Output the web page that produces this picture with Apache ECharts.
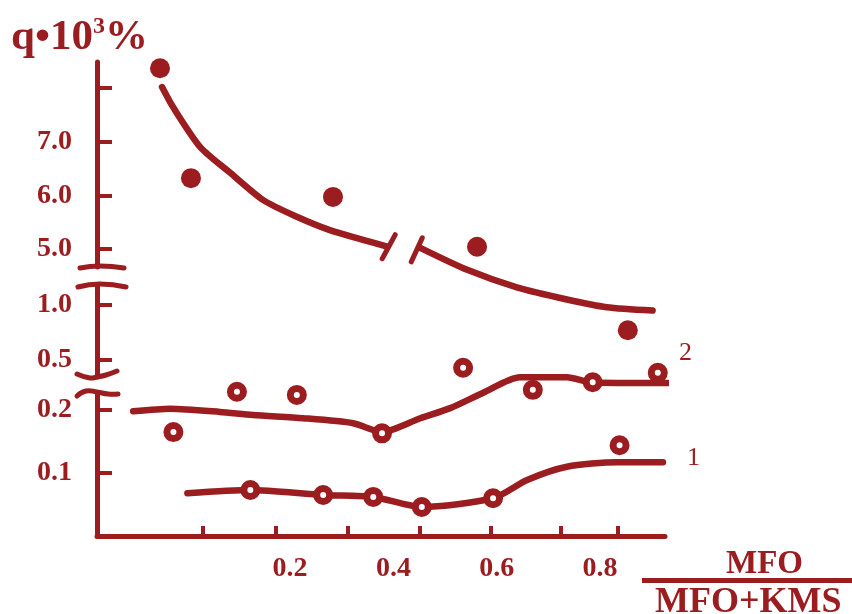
<!DOCTYPE html>
<html><head><meta charset="utf-8">
<script src="https://cdn.jsdelivr.net/npm/echarts@6/dist/echarts.min.js"></script>
<style>html,body{margin:0;padding:0;background:#fff}#c{width:852px;height:614px}</style>
</head><body><div id="c"></div>
<script>
// ---- data ----
const xLabelValues = [0.2, 0.4, 0.6, 0.8];
const xTickValues = [0.03, 0.173, 0.312, 0.451, 0.589, 0.724, 0.835];
const yTopLabels = [5, 6, 7];
const yTopTicks = [5, 6, 7, 8];
const yMidLabels = [0.5, 1.0];
const yBotLabels = [0.1, 0.2];

// upper curve (filled dots), before the break (upper scale 5.0-8.0)
const curveTopA = [[-0.048,8.02],[-0.027,7.65],[0.026,6.90],[0.084,6.42],[0.148,5.91],[0.213,5.60],[0.277,5.35],[0.341,5.17],[0.388,5.04]];
// upper curve after the break (scale 0.5-1.0)
const curveTopB = [[0.452,1.52],[0.543,1.32],[0.639,1.16],[0.736,1.05],[0.813,0.98],[0.902,0.95]];
const dotsTopA = [[-0.052,8.37],[0.008,6.32],[0.283,5.97]];
const dotsTopB = [[0.562,1.53],[0.854,0.77]];

// curve 2 (open circles)
const curve2 = [[-0.104,0.198],[-0.032,0.202],[0.064,0.197],[0.128,0.192],[0.225,0.187],[0.322,0.179],[0.378,0.165],[0.452,0.187],[0.510,0.203],[0.573,0.227],[0.645,0.252],[0.736,0.252],[0.781,0.244],[0.833,0.243],[0.955,0.243]];
const points2 = [[-0.026,0.165],[0.097,0.229],[0.213,0.224],[0.378,0.163],[0.535,0.267],[0.670,0.232],[0.786,0.244],[0.912,0.259]];

// curve 1 (open circles)
const curve1 = [[0.001,0.068],[0.123,0.073],[0.264,0.065],[0.361,0.062],[0.455,0.046],[0.593,0.060],[0.659,0.089],[0.736,0.110],[0.833,0.117],[0.922,0.117]];
const points1 = [[0.123,0.073],[0.264,0.065],[0.361,0.062],[0.455,0.046],[0.593,0.060],[0.838,0.144]];

// ---- style ----
const C = '#9b1d20';
const FONT = '"Liberation Serif","DejaVu Serif",serif';
const X_MIN = -0.174, X_MAX = 0.926;
const L = 97, W = 568;

const chart = echarts.init(document.getElementById('c'));
function xAx(i, show){
  return {type:'value', gridIndex:i, min:X_MIN, max:X_MAX, show:show,
    axisLine:{show:show, onZero:false, lineStyle:{color:C, width:5}},
    axisTick:{show:show, inside:true, length:10, lineStyle:{color:C,width:4}, customValues:xTickValues},
    axisLabel:{show:show, color:C, fontFamily:FONT, fontWeight:'bold', fontSize:28, margin:19,
      customValues:xLabelValues, formatter:v=>v.toFixed(1)},
    splitLine:{show:false}};
}
function yAx(i, min, max, labels, ticks){
  return {type:'value', gridIndex:i, min:min, max:max,
    axisLine:{show:true, onZero:false, lineStyle:{color:C, width:5}},
    axisTick:{show:true, inside:true, length:15, lineStyle:{color:C,width:4}, customValues:ticks},
    axisLabel:{color:C, fontFamily:FONT, fontWeight:'bold', fontSize:28, margin:25,
      customValues:labels, formatter:v=>v.toFixed(1)},
    splitLine:{show:false}};
}
const lineBase = {type:'line', symbol:'none', smooth:0.25, clip:false,
  lineStyle:{color:C, width:6.5, cap:'round', join:'round'}, silent:true, z:2};
const ring = {type:'scatter', symbol:'circle', symbolSize:13, clip:false,
  itemStyle:{color:'#fff', borderColor:C, borderWidth:7, opacity:1}, z:3};
const dot = {type:'scatter', symbol:'circle', symbolSize:20, clip:false,
  itemStyle:{color:C, opacity:1}, z:3};

chart.setOption({
  animation:false,
  backgroundColor:'#fff',
  title:{left:11, top:15, padding:0, text:'{a|q•10}{s|3}{a|%}',
    textStyle:{rich:{
      a:{color:C, fontFamily:FONT, fontWeight:'bold', fontSize:43, lineHeight:46},
      s:{color:C, fontFamily:FONT, fontWeight:'bold', fontSize:24, lineHeight:26, verticalAlign:'top'}}}},
  grid:[
    {left:L, width:W, top:62, height:205},
    {left:L, width:W, top:285, height:92},
    {left:L, width:W, top:393, height:143}
  ],
  xAxis:[xAx(0,false), xAx(1,false), xAx(2,true)],
  yAxis:[
    yAx(0, 4.662, 8.487, yTopLabels, yTopTicks),
    yAx(1, 0.345, 1.182, yMidLabels, yMidLabels),
    yAx(2, 0, 0.227, yBotLabels, yBotLabels)
  ],
  series:[
    Object.assign({}, lineBase, {name:'top-a', xAxisIndex:0, yAxisIndex:0, data:curveTopA}),
    Object.assign({}, lineBase, {name:'top-b', xAxisIndex:1, yAxisIndex:1, data:curveTopB}),
    Object.assign({}, dot, {name:'dots-a', xAxisIndex:0, yAxisIndex:0, data:dotsTopA}),
    Object.assign({}, dot, {name:'dots-b', xAxisIndex:1, yAxisIndex:1, data:dotsTopB}),
    Object.assign({}, lineBase, {name:'2', xAxisIndex:2, yAxisIndex:2, data:curve2,
      endLabel:{show:true, formatter:'2', color:C, fontFamily:FONT, fontSize:26, offset:[2,-30]}}),
    Object.assign({}, ring, {name:'p2', xAxisIndex:2, yAxisIndex:2, data:points2}),
    Object.assign({}, lineBase, {name:'1', xAxisIndex:2, yAxisIndex:2, data:curve1,
      endLabel:{show:true, formatter:'1', color:C, fontFamily:FONT, fontSize:26, offset:[16,-4]}}),
    Object.assign({}, ring, {name:'p1', xAxisIndex:2, yAxisIndex:2, data:points1})
  ]
});

// decorations: axis-break marks, curve-break slashes, x-axis fraction title
const pA = chart.convertToPixel({xAxisIndex:0, yAxisIndex:0}, curveTopA[curveTopA.length-1]);
const pB = chart.convertToPixel({xAxisIndex:1, yAxisIndex:1}, curveTopB[0]);
const ls = {stroke:C, lineWidth:5, lineCap:'round', fill:null};
chart.setOption({graphic:[
  {type:'polyline', shape:{points:[[80,268],[100,266],[124,268]], smooth:0.5}, style:ls},
  {type:'polyline', shape:{points:[[78,287],[100,284],[126,287]], smooth:0.5}, style:ls},
  {type:'polyline', shape:{points:[[77,374],[90,378],[97,377],[106,375],[117,371]], smooth:0.5}, style:ls},
  {type:'polyline', shape:{points:[[77,396],[86,391],[97,392],[108,394],[118,394]], smooth:0.5}, style:ls},
  {type:'line', shape:{x1:pA[0]-5, y1:pA[1]+12, x2:pA[0]+8, y2:pA[1]-12}, style:ls},
  {type:'line', shape:{x1:pB[0]-9, y1:pB[1]+14, x2:pB[0]+2, y2:pB[1]-10}, style:ls},
  {type:'text', left:726, top:548, style:{text:'MFO', fill:C, font:'bold 33px '+FONT}},
  {type:'rect', shape:{x:642, y:578, width:210, height:5}, style:{fill:C}},
  {type:'text', left:655, top:585, style:{text:'MFO+KMS', fill:C, font:'bold 36px '+FONT}}
]});
</script></body></html>
